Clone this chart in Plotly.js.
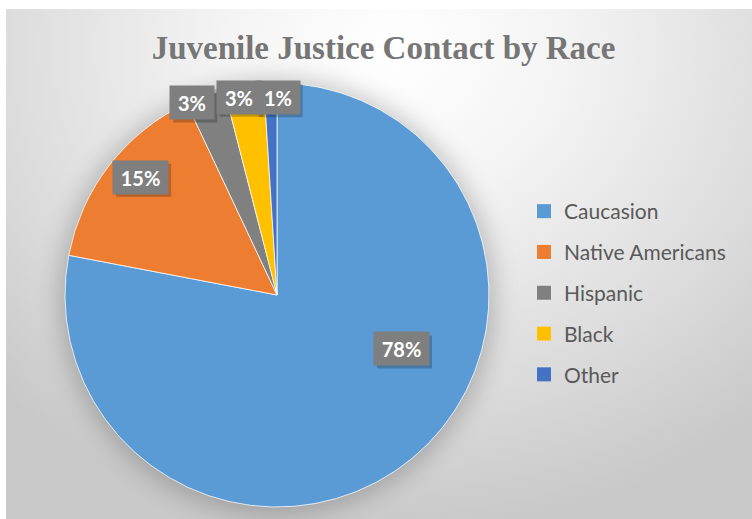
<!DOCTYPE html>
<html>
<head>
<meta charset="utf-8">
<script src="https://cdn.plot.ly/plotly-3.0.1.min.js"></script>
<style>
  html, body { margin: 0; padding: 0; background: #ffffff; }
  #wrap { position: relative; width: 752px; height: 519px; overflow: hidden; }
  #bg {
    position: absolute; left: 6px; top: 9px; width: 746px; height: 510px;
    background: radial-gradient(ellipse 75% 95% at 52% 8%, #ffffff 0%, #f4f4f4 30%, #dcdcdc 70%, #c8c8c8 100%);
  }
  #shadow {
    position: absolute; left: 65px; top: 83px; width: 424px; height: 424px; border-radius: 50%;
    box-shadow: 0 2px 24px 5px rgba(0,0,0,0.22);
  }
  #chart { position: absolute; left: 0; top: 0; width: 752px; height: 519px; }
</style>
</head>
<body>
<div id="wrap">
  <div id="bg"></div>
  <div id="shadow"></div>
  <div id="chart"></div>
</div>
<script>
// ---- data ----
const categories = ["Caucasion", "Native Americans", "Hispanic", "Black", "Other"];
const values = [78, 15, 3, 3, 1];
const colors = ["#5B9BD5", "#ED7D31", "#808080", "#FFC000", "#4472C4"];
const titleText = "Juvenile Justice Contact by Race";

// ---- layout geometry ----
const W = 752, H = 519;
const cx = 277, cy = 295, R = 212;           // pie centre / radius in pixels
const domX = [(cx - R) / W, (cx + R) / W];
const domY = [(H - cy - R) / H, (H - cy + R) / H];

// label placement: radial fraction + small angular nudge (degrees) per slice
const labelR = [0.64, 0.85, 0.99, 0.95, 0.93];
const labelNudge = [-27, 3, -4, -2, 2];

const total = values.reduce((a, b) => a + b, 0);
const annotations = [];
const shapes = [];
let cum = 0;
values.forEach((v, i) => {
  const mid = (cum + v / 2) / total * 360 + labelNudge[i];
  cum += v;
  const rad = mid * Math.PI / 180;
  const px = cx + labelR[i] * R * Math.sin(rad);
  const py = cy - labelR[i] * R * Math.cos(rad);
  const txt = Math.round(v / total * 100) + "%";
  const wBox = txt.length > 2 ? 47 : 36;
  const hBox = 25;
  const fw = wBox + 8, fh = hBox + 8;
  // drop shadow behind the label box
  shapes.push({
    type: "rect", xref: "paper", yref: "paper", layer: "above",
    x0: (px - fw / 2 + 3) / W, x1: (px + fw / 2 + 3) / W,
    y0: (H - (py + fh / 2 + 3)) / H, y1: (H - (py - fh / 2 + 3)) / H,
    fillcolor: "rgba(0,0,0,0.22)", line: { width: 0 }
  });
  annotations.push({
    xref: "paper", yref: "paper", x: px / W, y: (H - py) / H,
    xanchor: "center", yanchor: "middle", showarrow: false,
    width: wBox, height: hBox, borderpad: 4,
    text: "<b>" + txt + "</b>", bgcolor: "#7F7F7F",
    font: { family: "Lato, 'Open Sans', sans-serif", size: 20, color: "#ffffff" }
  });
});

const pieTrace = {
  type: "pie",
  labels: categories,
  values: values,
  sort: false,
  direction: "clockwise",
  rotation: 0,
  textinfo: "none",
  hoverinfo: "label+percent",
  marker: { colors: colors, line: { color: "rgba(255,255,255,0.75)", width: 1 } },
  domain: { x: domX, y: domY },
  showlegend: false
};

// legend entries (one group each so the spacing matches)
const legendTraces = categories.map((c, i) => ({
  type: "scatter", mode: "markers", x: [null], y: [null],
  name: c, legendgroup: "g" + i,
  marker: { symbol: "square", size: 14, color: colors[i] },
  hoverinfo: "skip", showlegend: true
}));

const layout = {
  width: W, height: H,
  margin: { l: 0, r: 0, t: 0, b: 0 },
  paper_bgcolor: "rgba(0,0,0,0)",
  plot_bgcolor: "rgba(0,0,0,0)",
  title: {
    text: "<b>" + titleText + "</b>",
    font: { family: "'Liberation Serif', 'Times New Roman', serif", size: 33, color: "#767676" },
    x: 0.51, xanchor: "center", y: 1 - 47 / H, yanchor: "middle", yref: "paper"
  },
  xaxis: { visible: false, domain: [0.9, 0.95] },
  yaxis: { visible: false, domain: [0.9, 0.95] },
  showlegend: true,
  legend: {
    x: 524 / W, xanchor: "left", y: 1 - 191 / H, yanchor: "top",
    traceorder: "grouped", tracegroupgap: 10.5,
    font: { family: "Lato, 'Open Sans', sans-serif", size: 21, color: "#595959" },
    bgcolor: "rgba(0,0,0,0)", itemclick: false
  },
  shapes: shapes,
  annotations: annotations
};

Plotly.newPlot("chart", [pieTrace].concat(legendTraces), layout, { displayModeBar: false, staticPlot: true });
</script>
</body>
</html>
